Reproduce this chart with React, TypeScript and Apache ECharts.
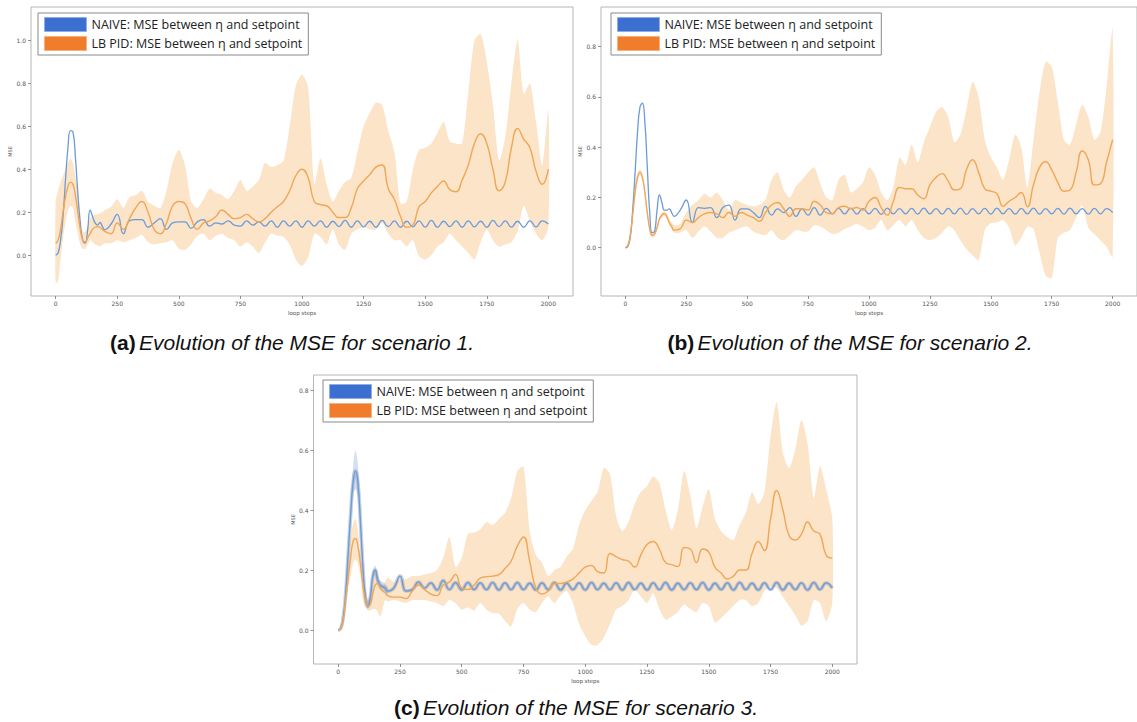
import React, { useEffect, useRef } from "react";
import * as echarts from "echarts";

// loop steps sampled (finer near the start)
const STEPS = [0,10,20,30,40,50,60,70,80,90,100,110,120,130,140,150,160,170,180,190,200,
  225,250,275,300,325,350,375,400,425,450,475,500,525,550,575,600,625,650,675,700,725,750,775,800,
  825,850,875,900,925,950,975,1000,1025,1050,1075,1100,1125,1150,1175,1200,1225,1250,1275,1300,
  1325,1350,1375,1400,1425,1450,1475,1500,1525,1550,1575,1600,1625,1650,1675,1700,1725,1750,1775,1800,
  1825,1850,1875,1900,1925,1950,1975,2000];

const X_TICKS = [0,250,500,750,1000,1250,1500,1750,2000];
const Y_TICKS_A = [0,0.2,0.4,0.6,0.8,1.0];
const Y_TICKS_B = [0,0.2,0.4,0.6,0.8];
const Y_TICKS_C = [0,0.2,0.4,0.6,0.8];

const NAME_NAIVE = "NAIVE: MSE between η and setpoint";
const NAME_PID = "LB PID: MSE between η and setpoint";

// ---- scenario 1 ----
const NAIVE_A = [0.0,0.01,0.07,0.18,0.35,0.5,0.58,0.575,0.46,0.29,0.15,0.07,0.056,0.118,0.21,0.18,0.15,0.14,0.152,0.133,0.118,
  0.145,0.19,0.10,0.16, 0.165,0.165,0.13,0.15, 0.17,0.12,0.15,0.155, 0.155,0.125,0.155,0.165,
  0.135,0.15,0.145,0.16, 0.14,0.135,0.16,0.14, 0.155,0.135,0.16,0.13, 0.16,0.135,0.16,0.13,
  0.16,0.135,0.16,0.13, 0.158,0.133,0.162,0.13, 0.16,0.132,0.158,0.13, 0.162,0.133,0.16,0.13,
  0.158,0.132,0.16,0.131, 0.162,0.13,0.158,0.133, 0.16,0.13,0.16,0.132, 0.158,0.13,0.162,0.133,
  0.16,0.131,0.158,0.13, 0.16,0.132,0.16,0.145];
const PID_A = [0.055,0.07,0.12,0.2,0.27,0.32,0.34,0.33,0.28,0.2,0.12,0.07,0.062,0.08,0.1,0.12,0.13,0.133,0.13,0.12,0.11,
  0.10,0.15,0.12,0.17, 0.22,0.25,0.2,0.12, 0.10,0.15,0.23,0.25, 0.24,0.17,0.12,0.15,
  0.16,0.18,0.21,0.19, 0.17,0.175,0.19,0.17, 0.155,0.17,0.2,0.225, 0.25,0.30,0.37,0.40,
  0.36,0.25,0.235,0.23, 0.2,0.175,0.175,0.22, 0.31,0.345,0.375,0.41, 0.42,0.31,0.26,0.18,
  0.13,0.14,0.225,0.25, 0.29,0.32,0.345,0.305, 0.295,0.35,0.42,0.52, 0.565,0.52,0.40,0.30,
  0.34,0.50,0.59,0.54, 0.50,0.39,0.33,0.40];
const UPPER_A = [0.25,0.30,0.34,0.37,0.40,0.43,0.45,0.43,0.37,0.30,0.20,0.11,0.11,0.14,0.17,0.18,0.19,0.19,0.195,0.20,0.21,
  0.225,0.26,0.22,0.27, 0.28,0.30,0.25,0.23, 0.22,0.30,0.43,0.49, 0.42,0.25,0.22,0.26,
  0.31,0.29,0.28,0.26, 0.30,0.35,0.30,0.32, 0.35,0.43,0.41,0.42, 0.44,0.60,0.79,0.84,
  0.78,0.33,0.45,0.33, 0.25,0.30,0.34,0.36, 0.48,0.60,0.66,0.71, 0.70,0.58,0.48,0.24,
  0.25,0.40,0.49,0.50, 0.52,0.57,0.62,0.53, 0.52,0.52,0.76,1.0, 1.03,0.90,0.70,0.44,
  0.55,0.80,1.0,0.75, 0.80,0.62,0.42,0.68];
const LOWER_A = [-0.13,-0.12,-0.02,0.08,0.15,0.21,0.23,0.22,0.16,0.10,0.05,0.03,0.03,0.05,0.07,0.06,0.05,0.045,0.04,0.05,0.055,
  0.055,0.07,0.06,0.07, 0.08,0.095,0.06,0.05, 0.055,0.06,0.07,0.03, 0.025,0.05,0.09,0.10,
  0.07,0.09,0.10,0.08, 0.07,0.04,0.06,0.04, 0.01,0.06,0.10,0.09, 0.085,0.05,-0.02,-0.05,
  -0.01,0.10,0.085,0.05, 0.12,0.05,0.025,0.10, 0.12,0.13,0.12,0.12, 0.15,0.10,0.07,0.07,
  0.04,0.07,-0.005,-0.02, 0.0,0.04,0.06,0.10, 0.07,0.04,0.01,-0.02, 0.06,0.12,0.07,0.04,
  0.05,0.06,0.11,0.23, 0.16,0.10,0.07,0.13];

// ---- scenario 2 ----
const NAIVE_B = [0,0.005,0.04,0.15,0.30,0.46,0.56,0.575,0.50,0.32,0.14,0.06,0.065,0.15,0.21,0.18,0.15,0.15,0.155,0.14,0.125,
  0.15,0.19,0.10,0.16, 0.157,0.16,0.12,0.16, 0.17,0.11,0.155,0.155, 0.14,0.12,0.165,0.13,
  0.155,0.14,0.16,0.125, 0.155,0.13,0.16,0.13, 0.157,0.135,0.157,0.135, 0.158,0.134,0.156,0.135,
  0.157,0.133,0.158,0.135, 0.156,0.135,0.157,0.134, 0.158,0.135,0.156,0.134, 0.157,0.135,0.158,0.133,
  0.156,0.135,0.157,0.134, 0.158,0.135,0.156,0.134, 0.157,0.135,0.158,0.134, 0.156,0.135,0.157,0.134,
  0.158,0.135,0.156,0.134, 0.157,0.135,0.156,0.14];
const PID_B = [0,0.01,0.05,0.13,0.22,0.28,0.30,0.28,0.22,0.14,0.075,0.05,0.055,0.08,0.115,0.13,0.135,0.125,0.10,0.085,0.07,
  0.075,0.11,0.10,0.12, 0.135,0.14,0.135,0.12, 0.14,0.125,0.14,0.13, 0.12,0.105,0.14,0.17,
  0.18,0.155,0.125,0.155, 0.155,0.15,0.185,0.17, 0.14,0.135,0.16,0.165, 0.155,0.16,0.15,0.185,
  0.2,0.16,0.13,0.185, 0.24,0.235,0.235,0.21, 0.195,0.25,0.28,0.295, 0.265,0.23,0.235,0.31,
  0.35,0.30,0.235,0.225, 0.215,0.165,0.185,0.20, 0.22,0.163,0.25,0.32, 0.342,0.31,0.26,0.225,
  0.23,0.30,0.385,0.35, 0.25,0.255,0.34,0.43];
const UPPER_B = [0,0.015,0.06,0.15,0.24,0.30,0.31,0.295,0.235,0.15,0.085,0.06,0.065,0.09,0.125,0.14,0.145,0.135,0.115,0.10,0.09,
  0.095,0.14,0.17,0.19, 0.215,0.20,0.22,0.19, 0.15,0.19,0.18,0.17, 0.165,0.17,0.19,0.27,
  0.30,0.23,0.20,0.245, 0.27,0.30,0.32,0.255, 0.20,0.19,0.27,0.29, 0.22,0.235,0.26,0.32,
  0.29,0.22,0.19,0.24, 0.36,0.33,0.41,0.34, 0.42,0.48,0.54,0.56, 0.52,0.42,0.45,0.55,
  0.66,0.60,0.43,0.36, 0.32,0.27,0.35,0.45, 0.40,0.24,0.43,0.62, 0.74,0.72,0.58,0.43,
  0.41,0.49,0.57,0.52, 0.43,0.46,0.64,0.87];
const LOWER_B = [0,0.005,0.035,0.11,0.20,0.26,0.29,0.265,0.205,0.13,0.065,0.04,0.045,0.07,0.105,0.12,0.125,0.115,0.09,0.075,0.06,
  0.06,0.07,0.04,0.065, 0.085,0.065,0.04,0.04, 0.06,0.07,0.08,0.085, 0.065,0.055,0.05,0.07,
  0.04,0.03,0.05,0.07, 0.065,0.065,0.09,0.085, 0.07,0.055,0.06,0.075, 0.085,0.095,0.085,0.07,
  0.08,0.11,0.07,0.09, 0.11,0.085,0.11,0.07, 0.04,0.03,0.04,0.06, 0.085,0.07,0.03,-0.005,
  -0.03,-0.05,0.07,0.097, 0.10,0.11,0.08,0.01, 0.04,0.084,0.075,-0.02, -0.11,-0.12,0.04,0.06,
  0.07,0.12,0.17,0.08, 0.055,0.03,0.004,-0.036];

// ---- scenario 3 ----
const NAIVE_C = [0,0.005,0.04,0.12,0.25,0.38,0.49,0.53,0.49,0.36,0.21,0.11,0.08,0.11,0.18,0.20,0.165,0.15,0.145,0.14,0.13,
  0.14,0.18,0.13,0.135, 0.16,0.14,0.157,0.134, 0.165,0.135,0.158,0.134, 0.158,0.135,0.157,0.135,
  0.158,0.134,0.157,0.135, 0.158,0.135,0.156,0.134, 0.157,0.135,0.158,0.134, 0.156,0.135,0.157,0.134,
  0.158,0.135,0.156,0.135, 0.157,0.134,0.158,0.135, 0.156,0.134,0.157,0.135, 0.158,0.134,0.156,0.135,
  0.157,0.135,0.158,0.134, 0.156,0.135,0.157,0.134, 0.158,0.135,0.156,0.134, 0.157,0.135,0.158,0.134,
  0.156,0.135,0.157,0.134, 0.158,0.135,0.157,0.14];
const PID_C = [0,0.005,0.03,0.10,0.17,0.24,0.295,0.305,0.28,0.22,0.15,0.10,0.08,0.085,0.12,0.15,0.155,0.14,0.13,0.125,0.115,
  0.11,0.11,0.105,0.13, 0.15,0.135,0.12,0.115, 0.15,0.16,0.185,0.14, 0.135,0.15,0.173,0.178,
  0.18,0.185,0.205,0.23, 0.28,0.31,0.23,0.14, 0.12,0.13,0.155,0.155, 0.16,0.17,0.19,0.21,
  0.215,0.195,0.19,0.255, 0.245,0.235,0.23,0.21, 0.25,0.285,0.295,0.27, 0.225,0.218,0.212,0.275,
  0.27,0.225,0.27,0.26, 0.21,0.19,0.17,0.18, 0.2,0.2,0.255,0.295, 0.265,0.37,0.465,0.40,
  0.315,0.30,0.32,0.36, 0.33,0.32,0.25,0.24];
const UPPER_C = [0,0.01,0.04,0.12,0.21,0.30,0.355,0.37,0.33,0.25,0.19,0.14,0.10,0.11,0.16,0.20,0.19,0.16,0.145,0.16,0.175,
  0.16,0.17,0.17,0.18, 0.18,0.185,0.19,0.2, 0.24,0.31,0.21,0.24, 0.32,0.325,0.335,0.36,
  0.35,0.37,0.39,0.44, 0.53,0.545,0.33,0.25, 0.225,0.18,0.2,0.21, 0.245,0.27,0.35,0.40,
  0.43,0.46,0.54,0.52, 0.38,0.33,0.36,0.42, 0.46,0.48,0.512,0.49, 0.40,0.334,0.40,0.53,
  0.45,0.34,0.41,0.47, 0.37,0.33,0.31,0.30, 0.35,0.39,0.46,0.42, 0.46,0.645,0.76,0.59,
  0.54,0.60,0.70,0.62, 0.44,0.546,0.47,0.37];
const LOWER_C = [0,0,0.02,0.08,0.14,0.18,0.22,0.235,0.22,0.18,0.10,0.075,0.065,0.065,0.07,0.07,0.06,0.045,0.07,0.10,0.095,
  0.10,0.095,0.09,0.10, 0.10,0.10,0.095,0.09, 0.08,0.10,0.09,0.068, 0.075,0.065,0.09,0.068,
  0.057,0.055,0.03,0.012, 0.07,0.09,0.068,0.06, 0.09,0.112,0.09,0.115, 0.13,0.09,0.02,-0.02,
  -0.05,-0.05,-0.025,0.02, 0.068,0.08,0.10,0.134, 0.112,0.09,0.123,0.07, 0.035,0.045,0.06,0.085,
  0.07,0.06,0.09,0.08, 0.025,0.04,0.06,0.08, 0.10,0.10,0.08,0.09, 0.13,0.145,0.14,0.11,
  0.08,0.05,0.015,0.03, 0.10,0.09,0.03,0.09];
// NAIVE spread in scenario 3 (first 200 steps, where it is visible)
const NAIVE_UP_C = [0,0.008,0.05,0.14,0.28,0.42,0.54,0.60,0.55,0.40,0.24,0.13,0.095,0.125,0.20,0.215,0.18,0.165,0.16,0.155,0.145];
const NAIVE_LO_C = [0,0.003,0.03,0.10,0.22,0.35,0.45,0.47,0.44,0.32,0.19,0.095,0.07,0.095,0.165,0.185,0.15,0.135,0.13,0.125,0.115];

const BAND_COLOR = "#fbe4c8";
const NAIVE_LINE = "#6b9bd9";
const PID_LINE = "#f0a657";
const NAIVE_SWATCH = "#3d6fd1";
const PID_SWATCH = "#f07c2c";

const PANELS = [
  { grid: { left: 31, top: 7, width: 542, height: 289 }, yMin: -0.19, yMax: 1.155, yTicks: Y_TICKS_A,
    naive: NAIVE_A, pid: PID_A, up: UPPER_A, lo: LOWER_A, legend: { left: 38, top: 13 }, naiveBand: false },
  { grid: { left: 601, top: 7, width: 543, height: 289 }, yMin: -0.192, yMax: 0.958, yTicks: Y_TICKS_B,
    naive: NAIVE_B, pid: PID_B, up: UPPER_B, lo: LOWER_B, legend: { left: 611, top: 13 }, naiveBand: false },
  { grid: { left: 313.5, top: 375, width: 543.5, height: 289 }, yMin: -0.113, yMax: 0.85, yTicks: Y_TICKS_C,
    naive: NAIVE_C, pid: PID_C, up: UPPER_C, lo: LOWER_C, legend: { left: 323, top: 380 }, naiveBand: true },
];

const CAPTIONS = [
  { tag: "(a)", text: "Evolution of the MSE for scenario 1.", x: 292, y: 342 },
  { tag: "(b)", text: "Evolution of the MSE for scenario 2.", x: 850, y: 342 },
  { tag: "(c)", text: "Evolution of the MSE for scenario 3.", x: 576, y: 707 },
];

function bandSeries(i: number, xs: number[], up: number[], lo: number[], color: string, smooth: number) {
  return {
    type: "custom", xAxisIndex: i, yAxisIndex: i, silent: true, clip: true, z: 1,
    data: [[xs[0], lo[0]]],
    renderItem: (params: any, api: any) => {
      const pts: number[][] = [];
      for (let k = 0; k < xs.length; k++) pts.push(api.coord([xs[k], up[k]]));
      for (let k = xs.length - 1; k >= 0; k--) pts.push(api.coord([xs[k], lo[k]]));
      return { type: "polygon", shape: { points: pts, smooth }, style: { fill: color } };
    },
  };
}

export default function App() {
  const ref = useRef<HTMLDivElement>(null);
  useEffect(() => {
    const all = [NAIVE_A, PID_A, UPPER_A, LOWER_A, NAIVE_B, PID_B, UPPER_B, LOWER_B, NAIVE_C, PID_C, UPPER_C, LOWER_C];
    all.forEach((a, i) => { if (a.length !== STEPS.length) throw new Error("array " + i + " has length " + a.length); });
    const chart = echarts.init(ref.current!, null, { renderer: "svg" });
    const grids: any[] = [];
    const xAxes: any[] = [];
    const yAxes: any[] = [];
    const series: any[] = [];
    const legends: any[] = [];
    PANELS.forEach((p, i) => {
      grids.push({ ...p.grid, show: true, borderColor: "#b5b5b5", borderWidth: 1, backgroundColor: "#fff" });
      xAxes.push({
        type: "value", gridIndex: i, min: -100, max: 2100, position: "bottom",
        splitLine: { show: false }, axisLine: { show: false, onZero: false },
        axisTick: { show: true, customValues: X_TICKS, length: 3, lineStyle: { color: "#777", width: 0.8 } },
        axisLabel: { customValues: X_TICKS, fontSize: 6, color: "#555", margin: 4, fontFamily: "DejaVu Sans",
          formatter: (v: number) => String(v) },
        name: "loop steps", nameLocation: "middle", nameGap: 14,
        nameTextStyle: { fontSize: 5.5, color: "#555", fontFamily: "DejaVu Sans" },
      });
      yAxes.push({
        type: "value", gridIndex: i, min: p.yMin, max: p.yMax, position: "left",
        splitLine: { show: false }, axisLine: { show: false, onZero: false },
        axisTick: { show: true, customValues: p.yTicks, length: 3, lineStyle: { color: "#777", width: 0.8 } },
        axisLabel: { customValues: p.yTicks, fontSize: 6, color: "#555", margin: 5, fontFamily: "DejaVu Sans",
          formatter: (v: number) => v.toFixed(1) },
        name: "MSE", nameLocation: "middle", nameGap: 17, nameRotate: 90,
        nameTextStyle: { fontSize: 5, color: "#555", fontFamily: "DejaVu Sans" },
      });
      const common = { xAxisIndex: i, yAxisIndex: i, symbol: "none", silent: true, animation: false };
      series.push(bandSeries(i, STEPS, p.up, p.lo, BAND_COLOR, 0.25));
      if (p.naiveBand) {
        series.push(bandSeries(i, STEPS.slice(0, NAIVE_UP_C.length), NAIVE_UP_C, NAIVE_LO_C, "rgba(120,155,210,0.32)", 0.3));
        series.push({ ...common, type: "line", name: "naive-spread-" + i, smooth: 0.5, z: 2,
          lineStyle: { color: "rgba(130,150,185,0.45)", width: 3.6 },
          data: STEPS.map((s, k) => [s, p.naive[k]]) });
      }
      series.push({ ...common, type: "line", name: NAME_NAIVE, smooth: 0.5, z: 3,
        itemStyle: { color: NAIVE_SWATCH }, lineStyle: { color: NAIVE_LINE, width: 1.3 },
        data: STEPS.map((s, k) => [s, p.naive[k]]) });
      series.push({ ...common, type: "line", name: NAME_PID, smooth: 0.5, z: 4,
        itemStyle: { color: PID_SWATCH }, lineStyle: { color: PID_LINE, width: 1.4 },
        data: STEPS.map((s, k) => [s, p.pid[k]]) });
      legends.push({
        left: p.legend.left, top: p.legend.top, orient: "vertical", icon: "rect",
        itemWidth: 42, itemHeight: 14, itemGap: 4, padding: [4, 6, 4, 6],
        borderColor: "#8a8a8a", borderWidth: 1, backgroundColor: "#fff", selectedMode: false,
        textStyle: { fontSize: 12.5, fontFamily: "Open Sans", color: "#222" },
        data: [
          { name: NAME_NAIVE, itemStyle: { color: NAIVE_SWATCH, borderColor: "#8fb0e6", borderWidth: 1 } },
          { name: NAME_PID, itemStyle: { color: PID_SWATCH, borderColor: "#f5b27f", borderWidth: 1 } },
        ],
      });
    });
    const graphics = CAPTIONS.map((c) => ({
      type: "text", x: c.x, y: c.y, silent: true,
      style: {
        text: "{b|" + c.tag + "} {i|" + c.text + "}",
        align: "center", verticalAlign: "middle",
        rich: {
          b: { fontWeight: "bold", fontSize: 21, fontFamily: "Liberation Sans", fill: "#111", color: "#111" },
          i: { fontStyle: "italic", fontSize: 21, fontFamily: "Liberation Sans", fill: "#111", color: "#111" },
        },
      },
    }));
    chart.setOption({
      animation: false,
      backgroundColor: "#fff",
      grid: grids,
      xAxis: xAxes,
      yAxis: yAxes,
      legend: legends,
      series,
      graphic: graphics,
    });
    return () => chart.dispose();
  }, []);
  return <div ref={ref} style={{ position: "absolute", left: 0, top: 0, width: 1137, height: 722, background: "#fff" }} />;
}
